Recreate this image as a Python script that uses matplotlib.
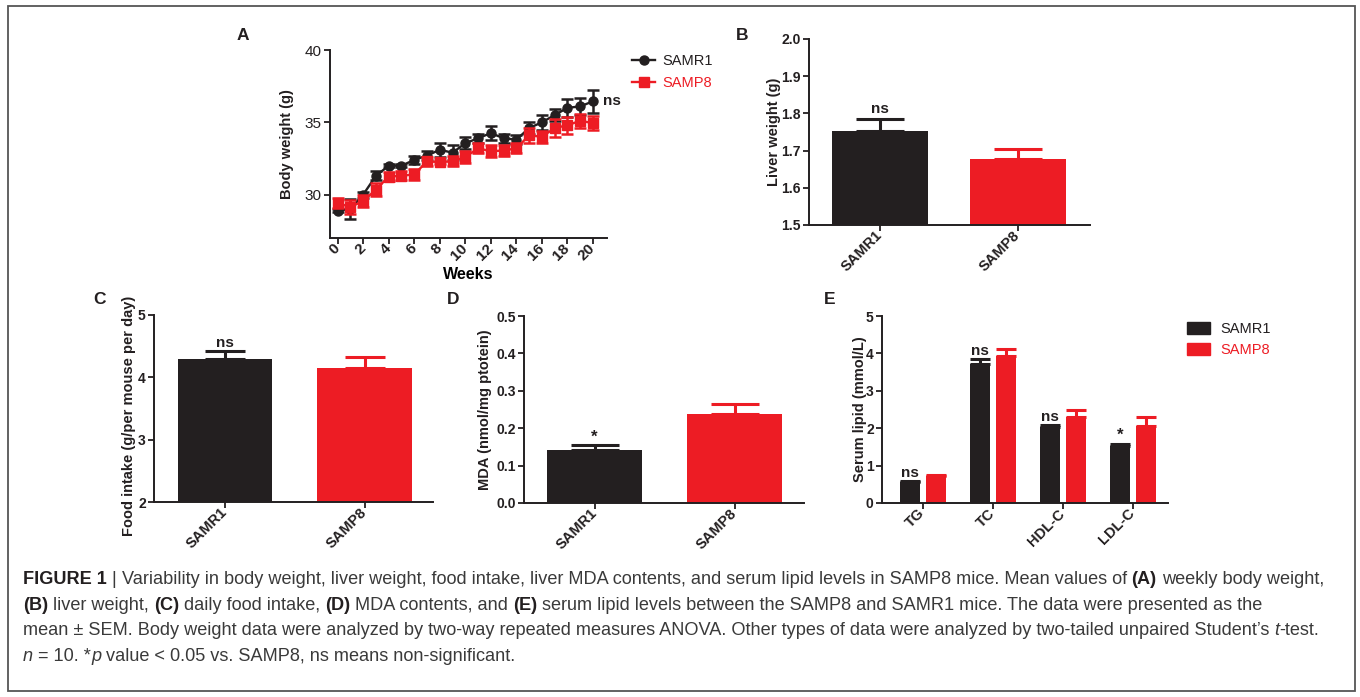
import matplotlib
matplotlib.use('Agg')
import matplotlib.pyplot as plt
from matplotlib.lines import Line2D
from matplotlib.patches import Patch, Rectangle
import numpy as np

plt.rcParams['font.family'] = ['Liberation Sans', 'DejaVu Sans']

W, H = 1360, 697
BLACK = '#231f20'
RED = '#ed1c24'

# ---------------- data ----------------
weeks = list(range(21))
samr1_bw = [28.9, 29.0, 30.0, 31.3, 32.0, 32.0, 32.4, 32.7, 33.1, 32.9, 33.55,
            33.9, 34.25, 33.9, 33.8, 34.6, 35.0, 35.5, 36.0, 36.1, 36.45]
samr1_bw_sem = [0.1, 0.7, 0.2, 0.3, 0.1, 0.1, 0.3, 0.3, 0.5, 0.5, 0.4,
                0.3, 0.5, 0.3, 0.3, 0.4, 0.5, 0.4, 0.6, 0.6, 0.8]
samp8_bw = [29.4, 29.15, 29.55, 30.35, 31.25, 31.3, 31.4, 32.3, 32.25, 32.3, 32.6,
            33.2, 33.0, 33.05, 33.2, 34.1, 34.0, 34.6, 34.8, 35.1, 34.95]
samp8_bw_sem = [0.35, 0.5, 0.4, 0.45, 0.3, 0.3, 0.4, 0.3, 0.15, 0.35, 0.4,
                0.35, 0.4, 0.4, 0.35, 0.5, 0.4, 0.6, 0.6, 0.5, 0.5]

groups = ['SAMR1', 'SAMP8']
group_colors = [BLACK, RED]
liver_weight = [1.754, 1.677]
liver_weight_sem = [0.031, 0.026]
food_intake = [4.30, 4.15]
food_intake_sem = [0.12, 0.18]
mda = [0.143, 0.238]
mda_sem = [0.011, 0.027]

lipids = ['TG', 'TC', 'HDL-C', 'LDL-C']
samr1_lipid = [0.55, 3.71, 2.04, 1.52]
samr1_lipid_sem = [0.03, 0.14, 0.05, 0.05]
samp8_lipid = [0.71, 3.92, 2.30, 2.07]
samp8_lipid_sem = [0.05, 0.20, 0.18, 0.22]
lipid_marks = ['ns', 'ns', 'ns', '*']

# ---------------- figure ----------------
fig = plt.figure(figsize=(W / 100, H / 100), dpi=100)

def px_axes(l, t, r, b):
    return fig.add_axes([l / W, 1 - b / H, (r - l) / W, (b - t) / H])

def style(ax, ytick_bold=True):
    for s in ['top', 'right']:
        ax.spines[s].set_visible(False)
    for s in ['left', 'bottom']:
        ax.spines[s].set_linewidth(1.4)
        ax.spines[s].set_color('#231f20')
    ax.tick_params(direction='out', length=4, width=1.3, colors='#231f20',
                   labelsize=10, pad=2)
    for lab in ax.get_yticklabels():
        lab.set_fontweight('bold' if ytick_bold else 'normal')

def rot_xlabels(ax, labels, size=10.5):
    ax.set_xticklabels(labels, rotation=45, ha='right', va='center',
                       rotation_mode='anchor', fontweight='bold', fontsize=size)

LBL = dict(fontsize=10.5, fontweight='bold', color='#231f20')

# ---- Panel A ----
axA = px_axes(330, 50, 607, 238)
axA.errorbar(weeks, samr1_bw, yerr=samr1_bw_sem, color=BLACK, marker='o', ms=6.5,
             lw=1.7, capsize=4, elinewidth=1.8, capthick=1.8, zorder=3)
axA.errorbar(weeks, samp8_bw, yerr=samp8_bw_sem, color=RED, marker='s', ms=7.5,
             lw=1.7, capsize=4, elinewidth=1.8, capthick=1.8, zorder=4)
axA.set_xlim(-0.6, 21.1)
axA.set_ylim(27, 40)
axA.set_yticks([30, 35, 40])
axA.set_xticks(weeks[::2])
style(axA, ytick_bold=False)
axA.tick_params(axis='y', labelsize=11)
rot_xlabels(axA, [str(w) for w in weeks[::2]], size=11)
axA.set_xlabel('Weeks', fontsize=11.5, fontweight='bold', labelpad=3)
axA.set_ylabel('Body weight (g)', **LBL)
axA.yaxis.set_label_coords(-0.13, 0.5)
axA.text(20.75, samr1_bw[-1], 'ns', ha='left', va='center', fontsize=11,
         fontweight='bold', color='#231f20')
handlesA = [Line2D([], [], color=BLACK, marker='o', ms=6.5, lw=1.7),
            Line2D([], [], color=RED, marker='s', ms=7.5, lw=1.7)]
fig.legend(handlesA, groups, loc='upper left', bbox_to_anchor=(632 / W, 1 - 54 / H),
           frameon=False, fontsize=10.5, handlelength=1.6, handletextpad=0.5,
           labelspacing=0.55, borderpad=0, borderaxespad=0, labelcolor=group_colors)

# ---- helper for two-bar panels ----
def two_bar(ax, vals, sems, width, capsize):
    x = np.arange(len(vals))
    for i in range(len(vals)):
        ax.errorbar(x[i], vals[i], yerr=[[0], [sems[i]]], color=group_colors[i],
                    capsize=capsize, elinewidth=2.2, capthick=2.2, zorder=1, fmt='none')
        ax.bar(x[i], vals[i], width=width, color=group_colors[i], zorder=2)
    ax.set_xticks(x)
    return x

# ---- Panel B ----
axB = px_axes(809, 39, 1090, 225)
two_bar(axB, liver_weight, liver_weight_sem, 0.70, 17.5)
axB.set_xlim(-0.514, 1.522)
axB.set_ylim(1.5, 2.0)
axB.set_yticks(np.round(np.arange(1.5, 2.01, 0.1), 1))
axB.set_yticklabels(['%.1f' % v for v in np.arange(1.5, 2.01, 0.1)])
style(axB)
rot_xlabels(axB, groups)
axB.set_ylabel('Liver weight (g)', **LBL)
axB.yaxis.set_label_coords(-0.10, 0.5)
axB.text(0, liver_weight[0] + liver_weight_sem[0] + 0.008, 'ns', ha='center',
         va='bottom', fontsize=11, fontweight='bold', color='#231f20')

# ---- Panel C ----
axC = px_axes(154, 315, 433, 502)
two_bar(axC, food_intake, food_intake_sem, 0.68, 14.5)
axC.set_xlim(-0.509, 1.491)
axC.set_ylim(2, 5)
axC.set_yticks([2, 3, 4, 5])
style(axC)
rot_xlabels(axC, groups)
axC.set_ylabel('Food intake (g/per mouse per day)', **LBL)
axC.yaxis.set_label_coords(-0.066, 0.46)
axC.text(0, food_intake[0] + food_intake_sem[0] + 0.02, 'ns', ha='center',
         va='bottom', fontsize=11, fontweight='bold', color='#231f20')

# ---- Panel D ----
axD = px_axes(524, 316, 804, 503)
two_bar(axD, mda, mda_sem, 0.68, 17)
axD.set_xlim(-0.504, 1.496)
axD.set_ylim(0, 0.5)
axD.set_yticks(np.round(np.arange(0, 0.51, 0.1), 1))
axD.set_yticklabels(['%.1f' % v for v in np.arange(0, 0.51, 0.1)])
style(axD)
rot_xlabels(axD, groups)
axD.set_ylabel('MDA (nmol/mg ptotein)', **LBL)
axD.yaxis.set_label_coords(-0.115, 0.5)
axD.text(0, mda[0] + mda_sem[0] + 0.002, '*', ha='center', va='bottom',
         fontsize=12, fontweight='bold', color='#231f20')

# ---- Panel E ----
axE = px_axes(882, 316, 1168, 503)
xe = np.arange(len(lipids))
off, bw = 0.186, 0.286
axE.errorbar(xe - off, samr1_lipid, yerr=[[0] * 4, samr1_lipid_sem], fmt='none',
             color=BLACK, capsize=7.2, elinewidth=2.2, capthick=2.2, zorder=1)
axE.errorbar(xe + off, samp8_lipid, yerr=[[0] * 4, samp8_lipid_sem], fmt='none',
             color=RED, capsize=7.2, elinewidth=2.2, capthick=2.2, zorder=1)
axE.bar(xe - off, samr1_lipid, width=bw, color=BLACK, zorder=2, label=groups[0])
axE.bar(xe + off, samp8_lipid, width=bw, color=RED, zorder=2, label=groups[1])
axE.set_xlim(-0.58, 3.5)
axE.set_ylim(0, 5)
axE.set_yticks([0, 1, 2, 3, 4, 5])
axE.set_xticks(xe)
style(axE)
rot_xlabels(axE, lipids)
axE.set_ylabel('Serum lipid (mmol/L)', **LBL)
axE.yaxis.set_label_coords(-0.053, 0.5)
for i in range(len(lipids)):
    top = samr1_lipid[i] + samr1_lipid_sem[i]
    axE.text(xe[i] - off, top + 0.03, lipid_marks[i], ha='center', va='bottom',
             fontsize=11 if lipid_marks[i] == 'ns' else 12, fontweight='bold',
             color='#231f20')
handlesE = [Patch(color=BLACK), Patch(color=RED)]
fig.legend(handlesE, groups, loc='upper left', bbox_to_anchor=(1187 / W, 1 - 322 / H),
           frameon=False, fontsize=10.5, handlelength=1.55, handleheight=0.9,
           handletextpad=0.75, labelspacing=0.5, borderpad=0, borderaxespad=0,
           labelcolor=group_colors)

# ---- panel letters ----
for letter, (px, py) in {'A': (243, 35), 'B': (742, 35), 'C': (99, 300),
                         'D': (453, 300), 'E': (830, 300)}.items():
    fig.text(px / W, 1 - py / H, letter, ha='center', va='center', fontsize=12.5,
             fontweight='bold', color='#231f20')

# ---- border ----
fig.add_artist(Rectangle((8 / W, 1 - 691 / H), (1355 - 8) / W, (691 - 6) / H,
                         transform=fig.transFigure, fill=False, lw=1.3,
                         edgecolor='#555555'))

# ---- caption ----
caption = [
    [("FIGURE 1", 'b'), (" | ", 'r'),
     ("Variability in body weight, liver weight, food intake, liver MDA contents, and serum lipid levels in SAMP8 mice. Mean values of ", 'r'),
     ("(A)", 'b'), (" weekly body weight,", 'r')],
    [("(B)", 'b'), (" liver weight, ", 'r'), ("(C)", 'b'), (" daily food intake, ", 'r'),
     ("(D)", 'b'), (" MDA contents, and ", 'r'), ("(E)", 'b'),
     (" serum lipid levels between the SAMP8 and SAMR1 mice. The data were presented as the", 'r')],
    [("mean \u00b1 SEM. Body weight data were analyzed by two-way repeated measures ANOVA. Other types of data were analyzed by two-tailed unpaired Student\u2019s ", 'r'),
     ("t", 'i'), ("-test.", 'r')],
    [("n", 'i'), (" = 10. *", 'r'), ("p", 'i'),
     (" value < 0.05 vs. SAMP8, ns means non-significant.", 'r')],
]
renderer = fig.canvas.get_renderer()

def props(st):
    if st == 'b':
        return dict(fontweight='bold', color='#231f20')
    if st == 'i':
        return dict(fontstyle='italic', color='#3a3a3a')
    return dict(color='#3a3a3a')

def text_w(s, size, st):
    t = fig.text(0, 0, s, fontsize=size, **props(st))
    w = t.get_window_extent(renderer).width
    t.remove()
    return w

def advance(s, size, st):
    # advance width of s, independent of ink bounds and side bearings
    return text_w('H' + s + 'H', size, st) - text_w('HH', size, st)

def draw_line(segs, x0, ybase, size, draw=True):
    x = x0
    for s, st in segs:
        if draw:
            core = s.lstrip(' ')
            lead = advance(s[:len(s) - len(core)], size, st) if core != s else 0
            if core.strip(' '):
                fig.text((x + lead) / W, 1 - ybase / H, core, fontsize=size,
                         ha='left', va='baseline', **props(st))
        x += advance(s, size, st)
    return x - x0

base_size = 10
w1 = draw_line(caption[0], 0, 0, base_size, draw=False)
cap_size = base_size * (1326 - 23) / w1
for i, segs in enumerate(caption):
    draw_line(segs, 23, 584 + i * 25.7, cap_size)

fig.savefig('out.png', dpi=100)
